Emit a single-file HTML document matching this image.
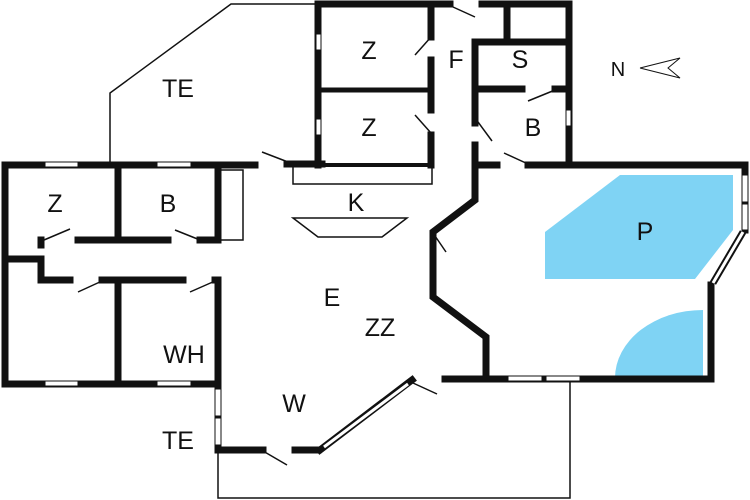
<!DOCTYPE html>
<html><head><style>body{margin:0;background:#fff}svg{display:block}text{font-family:"Liberation Sans",sans-serif;font-size:25px;fill:#111;text-anchor:middle;dominant-baseline:central}</style></head><body>
<svg width="750" height="500" viewBox="0 0 750 500" xmlns="http://www.w3.org/2000/svg">
<rect width="750" height="500" fill="#fff"/>
<polygon points="620,175 733,175 733,230 695,279 545,279 545,232" fill="#7fd3f4"/>
<path d="M615,378 A88,68 0 0 1 703,310 L703,378 Z" fill="#7fd3f4"/>
<g stroke="#111" stroke-width="1.5" fill="none">
<polyline points="110,165 110,93 231,4 318,4"/>
<polyline points="218,240 243,240 243,170 218,170"/>
<polyline points="293,166 293,184 432,184 432,166"/>
<polygon points="293,218 407,218 382,237 318,237"/>
<polyline points="218,450 218,498 570,498 570,380"/>
<line x1="262" y1="152" x2="288" y2="162"/><line x1="415" y1="55" x2="431" y2="37"/><line x1="415" y1="115" x2="431" y2="133"/>
<line x1="453" y1="7" x2="475" y2="17"/><line x1="528" y1="101" x2="555" y2="90"/><line x1="478" y1="122" x2="492" y2="141"/>
<line x1="504" y1="153" x2="528" y2="164"/><line x1="44" y1="240" x2="70" y2="229"/><line x1="175" y1="230" x2="200" y2="240"/>
<line x1="78" y1="292" x2="102" y2="281"/><line x1="190" y1="292" x2="215" y2="281"/><line x1="263" y1="451" x2="287" y2="465"/>
<line x1="413" y1="383" x2="437" y2="394"/><line x1="433" y1="233" x2="446" y2="252"/>
<polyline points="640,68 680,58 668,68 680,78 640,68" stroke-width="1"/>
</g>
<g stroke="#111" stroke-width="7" fill="none" stroke-linejoin="miter" stroke-linecap="square">
<polyline points="318,165 318,4 450,4"/><line x1="482" y1="4" x2="569" y2="4"/>
<polyline points="569,4 569,165 745,165 745,230"/>
<line x1="431" y1="4" x2="431" y2="37"/><line x1="431" y1="60" x2="431" y2="110"/><line x1="431" y1="135" x2="431" y2="165"/>
<line x1="507" y1="4" x2="507" y2="42"/>
<polyline points="569,42 475,42 475,123"/><polyline points="475,145 475,200 433,232 433,297 486,337 486,379"/>
<line x1="475" y1="89" x2="522" y2="89"/><line x1="555" y1="89" x2="569" y2="89"/>
<line x1="475" y1="165" x2="497" y2="165"/><line x1="528" y1="165" x2="569" y2="165"/>
<polyline points="711,285 711,379 445,379"/>
<line x1="412" y1="380" x2="320" y2="450"/>
<polyline points="295,450 318,450"/><polyline points="263,450 218,450 218,384"/>
<polyline points="255,165 5,165 5,384 218,384 218,280 215,280"/>
<line x1="287" y1="164" x2="322" y2="164"/>
<line x1="118" y1="165" x2="118" y2="240"/><line x1="218" y1="165" x2="218" y2="240"/>
<line x1="78" y1="240" x2="168" y2="240"/><line x1="200" y1="240" x2="218" y2="240"/>
<polyline points="5,259 41,259 41,280 70,280"/><line x1="41" y1="240" x2="41" y2="245"/>
<line x1="102" y1="280" x2="183" y2="280"/>
<line x1="118" y1="280" x2="118" y2="384"/>
</g>
<line x1="318" y1="90" x2="431" y2="90" stroke="#111" stroke-width="5"/>
<line x1="318" y1="165" x2="431" y2="165" stroke="#111" stroke-width="4"/>
<g fill="#fff" stroke="#111" stroke-width="1">
<rect x="45" y="162" width="33" height="5"/><rect x="157" y="162" width="34" height="5"/>
<rect x="45" y="381" width="33" height="5"/><rect x="157" y="381" width="34" height="5"/>
<rect x="316" y="34" width="5" height="16"/><rect x="316" y="119" width="5" height="16"/>
<rect x="566" y="110" width="5" height="16"/>
<rect x="215" y="389" width="6" height="27"/><rect x="215" y="418" width="6" height="27"/>
<rect x="508" y="376" width="34" height="5"/><rect x="546" y="376" width="34" height="5"/>
<rect x="742" y="175" width="6" height="27"/><rect x="742" y="204" width="6" height="26"/>
</g>
<line x1="743" y1="232" x2="713" y2="283" stroke="#111" stroke-width="7"/>
<line x1="743" y1="232" x2="713" y2="283" stroke="#fff" stroke-width="3"/>
<line x1="408" y1="384" x2="324" y2="447" stroke="#fff" stroke-width="3"/>
<text x="178" y="89">TE</text><text x="369" y="51">Z</text><text x="369" y="128">Z</text>
<text x="456" y="60">F</text><text x="520" y="60">S</text><text x="533" y="128">B</text>
<text x="618" y="70" style="font-size:20px">N</text><text x="356" y="203">K</text>
<text x="55" y="204">Z</text><text x="168" y="204">B</text><text x="645" y="232">P</text>
<text x="332" y="298">E</text><text x="380" y="328">ZZ</text><text x="184" y="355">WH</text>
<text x="294" y="404">W</text><text x="178" y="441">TE</text>
</svg>
</body></html>
